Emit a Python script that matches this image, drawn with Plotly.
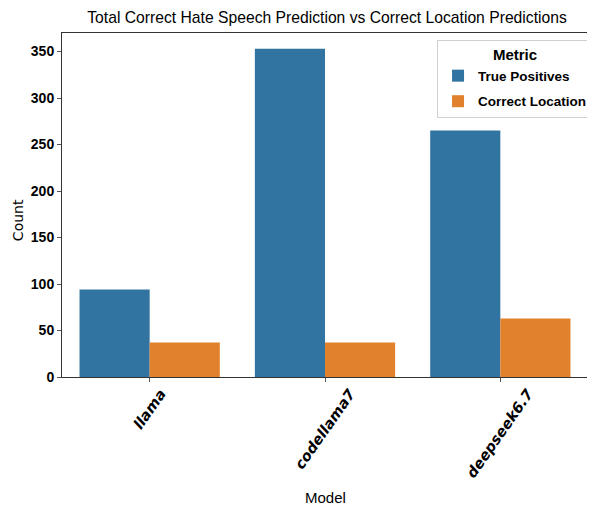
import plotly.graph_objects as go

models = ["llama", "codellama7", "deepseek6.7"]
true_positives = [94, 353, 265]
correct_location = [37, 37, 63]
series_names = ["True Positives", "Correct Location"]
y_ticks = [0, 50, 100, 150, 200, 250, 300, 350]

SANS = "Liberation Sans, Arial, sans-serif"
DJ = "DejaVu Sans, sans-serif"

fig = go.Figure()
fig.add_trace(go.Bar(x=models, y=true_positives, name=series_names[0], legendgroup="g1",
                     marker=dict(color="#3274a1", line=dict(width=0))))
fig.add_trace(go.Bar(x=models, y=correct_location, name=series_names[1], legendgroup="g2",
                     marker=dict(color="#e1812c", line=dict(width=0))))

# Rotated, centred category labels (matplotlib-style)
for m in models:
    fig.add_annotation(x=m, xref="x", y=0, yref="paper", yanchor="top", xanchor="center",
                       yshift=-6, text=m, textangle=-55, showarrow=False,
                       font=dict(family=DJ, size=14.5, color="black", weight="bold", style="italic"))
fig.add_annotation(x=0.5, xref="paper", y=0, yref="paper", yanchor="middle", xanchor="center",
                   yshift=-120, text="Model", showarrow=False,
                   font=dict(family=SANS, size=15, color="black"))
fig.add_annotation(x=0, xref="paper", y=0.456, yref="paper", yanchor="middle", xanchor="center",
                   xshift=-44, text="Count", textangle=-90, showarrow=False,
                   font=dict(family=DJ, size=14, color="black"))

fig.update_layout(
    width=587, height=498,
    margin=dict(l=54, r=7, t=25, b=129, autoexpand=False),
    paper_bgcolor="white", plot_bgcolor="white",
    barmode="group", bargap=0.2, bargroupgap=0,
    title=dict(text="Total Correct Hate Speech Prediction vs Correct Location Predictions",
               x=0.5435, xanchor="center", y=0.98, yanchor="middle",
               font=dict(family=SANS, size=15.7, color="black")),
    legend=dict(
        title=dict(text="<b>Metric</b>", side="top center",
                   font=dict(family=SANS, size=15, color="black")),
        x=0.713, y=0.98, xanchor="left", yanchor="top",
        bgcolor="white", bordercolor="#d0d0d0", borderwidth=1,
        font=dict(family=SANS, size=13.5, color="black", weight="bold"),
        itemwidth=30, traceorder="grouped", tracegroupgap=5,
    ),
    showlegend=True,
)
fig.update_xaxes(
    automargin=False, showticklabels=False,
    showline=True, linecolor="#333333", linewidth=1, mirror=True,
    ticks="outside", ticklen=4, tickcolor="#555555",
    showgrid=False,
)
fig.update_yaxes(
    automargin=False,
    range=[0, 370],
    tickvals=y_ticks,
    showline=True, linecolor="#333333", linewidth=1, mirror=True,
    ticks="outside", ticklen=4, tickcolor="#555555",
    tickfont=dict(family=SANS, size=14, color="black", weight="bold"),
    showgrid=False, zeroline=False,
)

fig.write_html("out.html")
